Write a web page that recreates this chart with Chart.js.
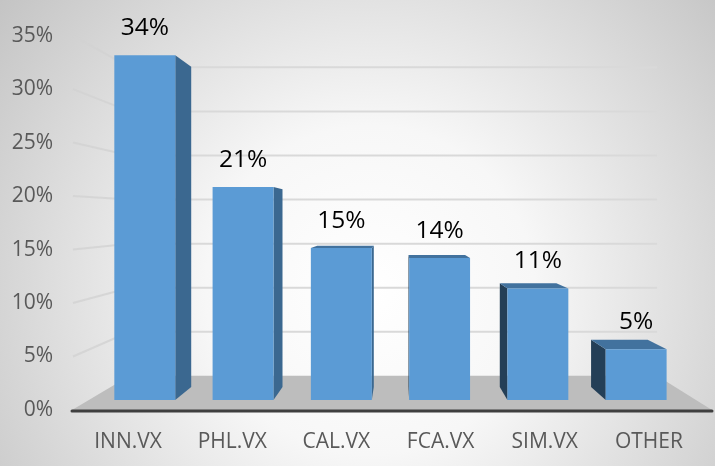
<!DOCTYPE html>
<html>
<head>
<meta charset="utf-8">
<script src="https://cdn.jsdelivr.net/npm/chart.js@4.4.0/dist/chart.umd.min.js"></script>
<style>
  html, body { margin: 0; padding: 0; background: #fff; }
</style>
</head>
<body>
<canvas id="shareBars" width="715" height="466"></canvas>
<script>
const CATEGORIES = ['INN.VX', 'PHL.VX', 'CAL.VX', 'FCA.VX', 'SIM.VX', 'OTHER'];
const SHARES = [34, 21, 15, 14, 11, 5];
const Y_TICKS = [0, 5, 10, 15, 20, 25, 30, 35];

// fake 3d: everything recedes toward this point
const VP = { x: 400, y: 216 };
const BAR_DEPTH = 0.929;   // back face of a bar vs its front face
const WALL_DEPTH = 0.824;  // back wall vs the axis plane
const FLOOR_LEFT = 72, FLOOR_RIGHT = 712;

const FONT = "'Open Sans', 'Liberation Sans', sans-serif";

function recede(x, y, k) {
    return [VP.x + (x - VP.x) * k, VP.y + (y - VP.y) * k];
}

function poly(ctx, pts, fill) {
    ctx.beginPath();
    ctx.moveTo(pts[0][0], pts[0][1]);
    for (let i = 1; i < pts.length; i++) ctx.lineTo(pts[i][0], pts[i][1]);
    ctx.closePath();
    ctx.fillStyle = fill;
    ctx.fill();
}

const backdrop = {
    id: 'backdrop',
    beforeDraw(chart) {
        const { ctx, width, height } = chart;
        const g = ctx.createRadialGradient(370, 290, 0, 370, 290, 470);
        g.addColorStop(0, '#ffffff');
        g.addColorStop(0.35, '#f7f7f7');
        g.addColorStop(1, '#c4c4c4');
        ctx.save();
        ctx.fillStyle = g;
        ctx.fillRect(0, 0, width, height);
        ctx.restore();
    },
    beforeDatasetsDraw(chart) {
        const { ctx } = chart;
        const y = chart.scales.y;
        const y0 = y.getPixelForValue(0);
        const bl = recede(FLOOR_LEFT, y0, WALL_DEPTH);
        const br = recede(FLOOR_RIGHT, y0, WALL_DEPTH);
        ctx.save();

        // floor
        poly(ctx, [[FLOOR_LEFT, y0], [FLOOR_RIGHT, y0], br, bl], '#bdbdbd');

        // gridlines on back wall + side wall
        ctx.lineWidth = 2;
        Y_TICKS.forEach(v => {
            if (v === 0) return;
            const fy = y.getPixelForValue(v);
            const a = recede(FLOOR_LEFT, fy, WALL_DEPTH);
            const b = recede(FLOOR_RIGHT, fy, WALL_DEPTH);
            ctx.strokeStyle = '#d9d9d9';
            ctx.beginPath();
            ctx.moveTo(a[0], a[1]);
            ctx.lineTo(b[0], b[1]);
            ctx.stroke();
            ctx.strokeStyle = 'rgba(210,210,210,0.8)';
            ctx.beginPath();
            ctx.moveTo(FLOOR_LEFT + 1, fy);
            ctx.lineTo(a[0], a[1]);
            ctx.stroke();
        });

        // axis line
        ctx.strokeStyle = '#3f3f3f';
        ctx.lineWidth = 3;
        ctx.lineCap = 'round';
        ctx.beginPath();
        ctx.moveTo(FLOOR_LEFT, y0 + 1);
        ctx.lineTo(FLOOR_RIGHT, y0 + 1);
        ctx.stroke();

        // sides and tops of the boxes
        chart.getDatasetMeta(0).data.forEach(bar => {
            const { x, y: top, base, width } = bar.getProps(['x', 'y', 'base', 'width'], true);
            const l = x - width / 2, r = x + width / 2;
            if (r < VP.x) {
                poly(ctx, [[r, top], [r, base], recede(r, base, BAR_DEPTH), recede(r, top, BAR_DEPTH)], '#3b6890');
            }
            if (l > VP.x) {
                poly(ctx, [[l, top], [l, base], recede(l, base, BAR_DEPTH), recede(l, top, BAR_DEPTH)], '#243f57');
            }
            if (top > VP.y) {
                poly(ctx, [[l, top], [r, top], recede(r, top, BAR_DEPTH), recede(l, top, BAR_DEPTH)], '#42729e');
            }
        });
        ctx.restore();
    },
    afterDatasetsDraw(chart) {
        const { ctx } = chart;
        ctx.save();
        ctx.font = '24.5px ' + FONT;
        ctx.fillStyle = '#000';
        ctx.textAlign = 'center';
        ctx.textBaseline = 'middle';
        chart.getDatasetMeta(0).data.forEach((bar, i) => {
            ctx.fillText(SHARES[i] + '%', bar.x, bar.y - 27);
        });
        ctx.restore();
    }
};

const ctx = document.getElementById('shareBars').getContext('2d');
new Chart(ctx, {
    type: 'bar',
    data: {
        labels: CATEGORIES,
        datasets: [{
            data: SHARES.map((v, i) => ({ x: i, y: v })),
            xAxisID: 'xBar',
            yAxisID: 'yBar',
            backgroundColor: '#5b9bd5',
            borderWidth: 0,
            categoryPercentage: 1,
            barPercentage: 0.62,
        }],
    },
    options: {
        responsive: false,
        devicePixelRatio: 1,
        animation: false,
        layout: { padding: { top: 11, right: 14, left: 0, bottom: 0 } },
        plugins: { legend: { display: false }, tooltip: { enabled: false } },
        scales: {
            // labels live on the front (axis) plane
            x: {
                type: 'category',
                min: CATEGORIES[0], max: CATEGORIES[CATEGORIES.length - 1],
                offset: true,
                grid: { display: false, drawTicks: false },
                border: { display: false },
                ticks: { color: '#595959', font: { family: FONT, size: 21 }, padding: 19, maxRotation: 0, autoSkip: false },
                afterFit: s => { s.height = 56; },
            },
            y: {
                min: 0, max: 35,
                afterBuildTicks: s => { s.ticks = Y_TICKS.map(v => ({ value: v })); },
                grid: { display: false, drawTicks: false },
                border: { display: false },
                ticks: { color: '#595959', font: { family: FONT, size: 21 }, padding: 23, callback: v => v + '%' },
                afterFit: s => { s.width = 76; },
            },
            // bar fronts sit a bit behind the axis plane -> squeezed scales of their own
            xBar: {
                type: 'linear',
                display: false,
                offset: false,
                min: -0.70, max: 5.66,
                afterBuildTicks: s => { s.ticks = CATEGORIES.map((c, i) => ({ value: i })); },
            },
            yBar: {
                display: false,
                min: -0.985, max: 35.94,
            },
        },
    },
    plugins: [backdrop],
});
</script>
</body>
</html>
